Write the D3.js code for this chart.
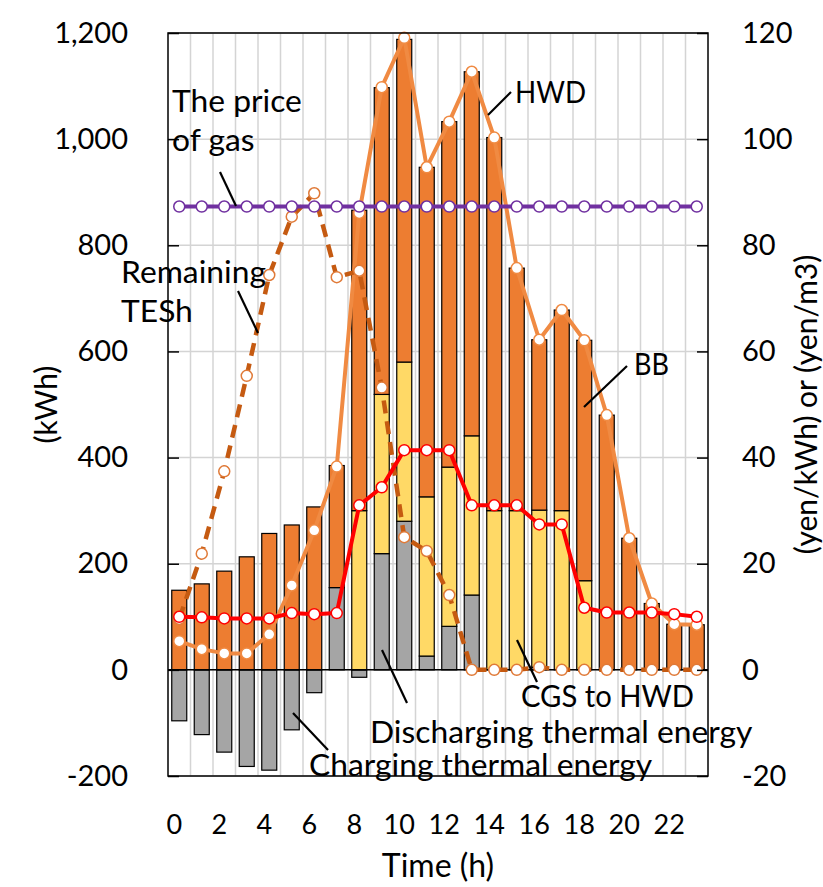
<!DOCTYPE html>
<html>
<head>
<meta charset="utf-8">
<script src="https://cdn.jsdelivr.net/npm/d3@7"></script>
<style>
  body { margin: 0; background: #fff; }
  text { font-family: Lato, "Open Sans", sans-serif; fill: #000; }
</style>
</head>
<body>
<div id="chart"></div>
<script>
  // ---- data ----
  var hours = [0,1,2,3,4,5,6,7,8,9,10,11,12,13,14,15,16,17,18,19,20,21,22,23];
  // thermal storage flow: + discharging, - charging (kWh)
  var tesFlow = [-96,-122,-155,-182,-189,-113,-43,155,-14,219,280,26,82,141,0,0,5,0,0,0,0,0,0,0];
  // CGS to HWD (kWh)
  var cgs = [0,0,0,0,0,0,0,0,300,300,300,300,300,300,300,300,296,300,168,0,0,0,0,0];
  // BB (kWh)
  var bb = [150,162,186,213,257,273,307,230,566,578,608,621,651,686,703,457,321,378,453,480,248,125,86,85];
  // hot water demand (kWh)
  var hwd = [54,39,31,31,67,159,263,383,861,1098,1191,947,1033,1127,1003,757,622,678,621,480,248,125,86,85];
  // remaining TESh (kWh)
  var tesh = [96,219,374,554,744,854,898,740,752,532,250,224,141,0,0,0,5,0,0,0,0,0,0,0];
  // prices (right axis)
  var elecPrice = [10.0,9.9,9.7,9.7,9.7,10.7,10.5,10.7,31.0,34.4,41.4,41.4,41.4,31.0,31.0,31.0,27.4,27.4,11.7,10.8,10.8,10.8,10.5,10.0];
  var gasPrice = [87.3,87.3,87.3,87.3,87.3,87.3,87.3,87.3,87.3,87.3,87.3,87.3,87.3,87.3,87.3,87.3,87.3,87.3,87.3,87.3,87.3,87.3,87.3,87.3];

  var leftTicks = [-200,0,200,400,600,800,1000,1200];
  var rightTicks = [-20,0,20,40,60,80,100,120];
  var xLabels = [0,2,4,6,8,10,12,14,16,18,20,22];

  var notes = [
    {lines: ['The price', 'of gas'], x: 172, y: 112, line: [220,172,236,206]},
    {lines: ['Remaining', 'TESh'], x: 121, y: 283, line: [238,291,258,333]},
    {lines: ['HWD'], x: 515, y: 103, line: [511,92,488,115], len: 71},
    {lines: ['BB'], x: 634, y: 375, line: [627,366,584,407], len: 35},
    {lines: ['CGS to HWD'], x: 521, y: 707, line: [537,682,517,640], len: 173},
    {lines: ['Discharging thermal energy'], x: 370, y: 743, line: [407,703,382,650]},
    {lines: ['Charging thermal energy'], x: 309, y: 776, line: [328,750,293,713]}
  ];

  var width = 823, height = 887,
      margin = {top: 33, right: 115, bottom: 111, left: 168},
      innerW = width - margin.left - margin.right,
      innerH = height - margin.top - margin.bottom;

  var svg = d3.select('#chart').append('svg')
    .attr('width', width)
    .attr('height', height);

  var g = svg.append('g')
    .attr('transform', 'translate(' + margin.left + ',' + margin.top + ')');

  var x = d3.scaleBand().domain(hours).range([0, innerW]).paddingInner(1/3).paddingOuter(1/6);
  var xc = function (h) { return x(h) + x.bandwidth() / 2; };
  var y = d3.scaleLinear().domain([-200, 1200]).range([innerH, 0]);
  var y2 = d3.scaleLinear().domain([-20, 120]).range([innerH, 0]);

  //----- grid
  var step = x.step();
  g.append('g').selectAll('line.vgrid')
    .data(hours.slice(1)).enter()
    .append('line')
    .attr('x1', function (d) { return x(d) - step * x.paddingInner() / 2; })
    .attr('x2', function (d) { return x(d) - step * x.paddingInner() / 2; })
    .attr('y1', 0).attr('y2', innerH)
    .attr('stroke', '#d4d4d4').attr('stroke-width', 1.5);

  g.append('g').selectAll('line.hgrid')
    .data(leftTicks).enter()
    .append('line')
    .attr('x1', 0).attr('x2', innerW)
    .attr('y1', function (d) { return y(d); })
    .attr('y2', function (d) { return y(d); })
    .attr('stroke', '#d4d4d4').attr('stroke-width', 1.5);

  //----- stacked bars
  var rows = hours.map(function (h, i) {
    return {hour: h, tes: tesFlow[i], cgs: cgs[i], bb: bb[i]};
  });
  var colors = {tes: '#a5a5a5', cgs: '#ffd966', bb: '#ed7d31'};
  var series = d3.stack().keys(['tes', 'cgs', 'bb']).offset(d3.stackOffsetDiverging)(rows);

  series.forEach(function (s) {
    g.append('g').selectAll('rect')
      .data(s.filter(function (d) { return d[1] !== d[0]; })).enter()
      .append('rect')
      .attr('x', function (d) { return x(d.data.hour); })
      .attr('width', x.bandwidth())
      .attr('y', function (d) { return y(Math.max(d[0], d[1])); })
      .attr('height', function (d) { return Math.abs(y(d[0]) - y(d[1])); })
      .attr('fill', colors[s.key])
      .attr('stroke', '#000').attr('stroke-width', 1.2);
  });

  // zero line
  g.append('line')
    .attr('x1', 0).attr('x2', innerW)
    .attr('y1', y(0)).attr('y2', y(0))
    .attr('stroke', '#000').attr('stroke-width', 1.5);

  //----- lines
  function drawLine(values, scale, color, opts) {
    opts = opts || {};
    var line = d3.line()
      .x(function (d, i) { return xc(hours[i]); })
      .y(function (d) { return scale(d); });
    g.append('path')
      .datum(values)
      .attr('d', line)
      .attr('fill', 'none')
      .attr('stroke', color)
      .attr('stroke-width', opts.width || 4)
      .attr('stroke-dasharray', opts.dash || null)
      .attr('stroke-linejoin', 'round');
    g.append('g').selectAll('circle')
      .data(values).enter()
      .append('circle')
      .attr('cx', function (d, i) { return xc(hours[i]); })
      .attr('cy', function (d) { return scale(d); })
      .attr('r', 5.5)
      .attr('fill', '#fff')
      .attr('stroke', opts.mark || color)
      .attr('stroke-width', 1.5);
  }

  drawLine(hwd, y, '#f08a42');
  drawLine(tesh, y, '#c55a11', {dash: '13,8', width: 4.5, mark: '#e07a38'});
  drawLine(elecPrice, y2, '#ff0000');
  drawLine(gasPrice, y2, '#7030a0');

  //----- frame + axes
  g.append('rect')
    .attr('width', innerW).attr('height', innerH)
    .attr('fill', 'none').attr('stroke', '#000').attr('stroke-width', 1.5);

  var fmt = d3.format(',');
  var yAxis = d3.axisLeft(y).tickValues(leftTicks).tickSize(-11).tickPadding(40)
    .tickFormat(function (d) { return fmt(d).replace('\u2212', '-'); });
  var y2Axis = d3.axisRight(y2).tickValues(rightTicks).tickSize(-11).tickPadding(34)
    .tickFormat(function (d) { return fmt(d).replace('\u2212', '-'); });

  var gy = g.append('g').call(yAxis);
  var gy2 = g.append('g').attr('transform', 'translate(' + innerW + ',0)').call(y2Axis);
  [gy, gy2].forEach(function (a) {
    a.select('.domain').remove();
    a.selectAll('line').attr('stroke', '#000').attr('stroke-width', 1.5);
    a.selectAll('text').attr('font-size', 29).attr('font-family', 'Lato');
  });

  g.append('g').selectAll('text.xlab')
    .data(xLabels).enter()
    .append('text')
    .attr('x', function (d) { return xc(d) - 5; })
    .attr('y', 834 - margin.top)
    .attr('text-anchor', 'middle')
    .attr('font-size', 27)
    .text(function (d) { return d; });

  //----- axis titles
  svg.append('text')
    .attr('transform', 'translate(45,' + (margin.top + innerH / 2) + ') rotate(-90)')
    .attr('text-anchor', 'middle').attr('dominant-baseline', 'central')
    .attr('font-size', 30)
    .text('(kWh)');
  svg.append('text')
    .attr('transform', 'translate(805,' + (margin.top + innerH / 2) + ') rotate(-90)')
    .attr('text-anchor', 'middle').attr('dominant-baseline', 'central')
    .attr('font-size', 30)
    .text('(yen/kWh) or (yen/m3)');
  svg.append('text')
    .attr('x', margin.left + innerW / 2).attr('y', 877)
    .attr('text-anchor', 'middle')
    .attr('font-size', 32)
    .text('Time (h)');

  //----- annotations
  notes.forEach(function (n) {
    svg.append('line')
      .attr('x1', n.line[0]).attr('y1', n.line[1])
      .attr('x2', n.line[2]).attr('y2', n.line[3])
      .attr('stroke', '#000').attr('stroke-width', 2.2);
    var t = svg.append('text').attr('font-size', 31.8);
    n.lines.forEach(function (l, i) {
      var ts = t.append('tspan').attr('x', n.x).attr('y', n.y + i * 38.5).text(l);
      if (n.len) ts.attr('textLength', n.len).attr('lengthAdjust', 'spacingAndGlyphs');
    });
  });
</script>
</body>
</html>
